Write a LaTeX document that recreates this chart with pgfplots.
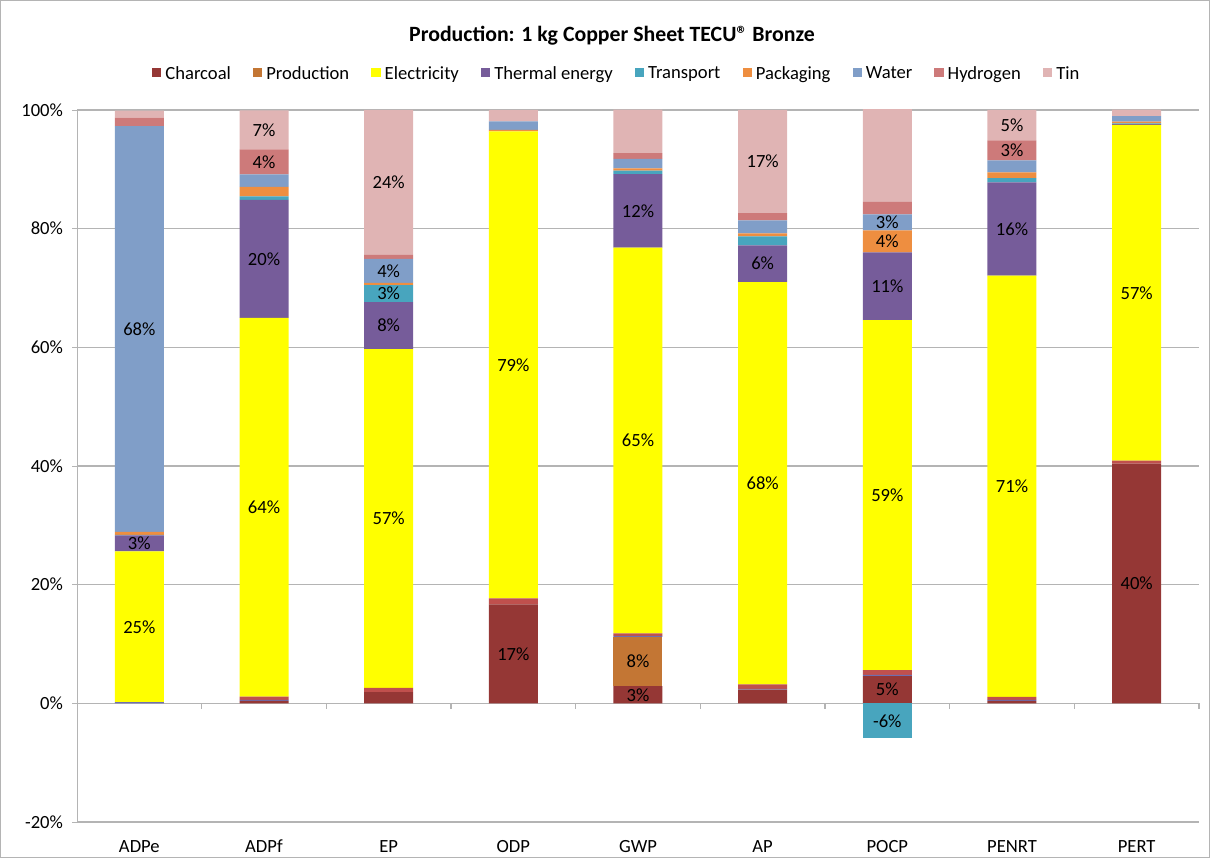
\documentclass[border=0pt]{standalone}
\usepackage{pgfplots}
\pgfplotsset{compat=1.18}
\usepackage{pgfplotstable}
\usepackage{fontspec}
\setmainfont{Carlito}

\definecolor{cChar}{RGB}{149,55,53}
\definecolor{cProd}{RGB}{195,118,52}
\definecolor{cElec}{RGB}{255,255,0}
\definecolor{cTherm}{RGB}{118,92,154}
\definecolor{cTrans}{RGB}{72,165,190}
\definecolor{cPack}{RGB}{238,142,64}
\definecolor{cWater}{RGB}{128,158,200}
\definecolor{cHyd}{RGB}{205,122,122}
\definecolor{cTin}{RGB}{224,180,180}
\definecolor{cXr}{RGB}{192,80,77}
\definecolor{cXp}{RGB}{110,110,175}
\definecolor{gridc}{RGB}{180,180,180}

% x: 0 ADPe, 1 ADPf, 2 EP, 3 ODP, 4 GWP, 5 AP, 6 POCP, 7 PENRT, 8 PERT
\pgfplotstableread{
x y l
0 0 {}
1 0 {}
2 0 {}
3 0 {}
4 0 {}
5 0 {}
6 -5.9 -6\%
7 0 {}
8 0 {}
}\tTrNeg
\pgfplotstableread{
x y l
0 0 {}
1 0.4 {}
2 1.9 {}
3 16.7 17\%
4 2.9 3\%
5 2.3 {}
6 4.6 5\%
7 0.4 {}
8 40.4 40\%
}\tChar
\pgfplotstableread{
x y l
0 0 {}
1 0 {}
2 0 {}
3 0 {}
4 8.3 8\%
5 0 {}
6 0 {}
7 0 {}
8 0 {}
}\tProd
\pgfplotstableread{
x y l
0 0.2 {}
1 0.2 {}
2 0 {}
3 0 {}
4 0.15 {}
5 0.15 {}
6 0.2 {}
7 0.2 {}
8 0 {}
}\tXp
\pgfplotstableread{
x y l
0 0 {}
1 0.55 {}
2 0.7 {}
3 1.0 {}
4 0.45 {}
5 0.75 {}
6 0.8 {}
7 0.5 {}
8 0.5 {}
}\tXr
\pgfplotstableread{
x y l
0 25.4 25\%
1 63.8 64\%
2 57.1 57\%
3 78.7 79\%
4 65.0 65\%
5 67.8 68\%
6 59.0 59\%
7 71.0 71\%
8 56.6 57\%
}\tElec
\pgfplotstableread{
x y l
0 2.7 3\%
1 19.9 20\%
2 7.9 8\%
3 0 {}
4 12.4 12\%
5 6.2 6\%
6 11.4 11\%
7 15.7 16\%
8 0.1 {}
}\tTherm
\pgfplotstableread{
x y l
0 0.1 {}
1 0.6 {}
2 2.9 3\%
3 0 {}
4 0.6 {}
5 1.5 {}
6 0 {}
7 0.7 {}
8 0.15 {}
}\tTrans
\pgfplotstableread{
x y l
0 0.5 {}
1 1.6 {}
2 0.35 {}
3 0.25 {}
4 0.35 {}
5 0.5 {}
6 3.7 4\%
7 1.0 {}
8 0.3 {}
}\tPack
\pgfplotstableread{
x y l
0 68.4 68\%
1 2.1 {}
2 4.05 4\%
3 1.45 {}
4 1.6 {}
5 2.2 {}
6 2.7 3\%
7 2.0 {}
8 0.9 {}
}\tWater
\pgfplotstableread{
x y l
0 1.4 {}
1 4.2 4\%
2 0.7 {}
3 0 {}
4 1.0 {}
5 1.2 {}
6 2.1 {}
7 3.4 3\%
8 0 {}
}\tHyd
\pgfplotstableread{
x y l
0 1.2 {}
1 6.6 7\%
2 24.4 24\%
3 1.9 {}
4 7.3 7\%
5 17.4 17\%
6 22.0 22\%
7 5.1 5\%
8 1.1 {}
}\tTin

\begin{document}
\begin{tikzpicture}[font=\fontsize{9.3}{11}\selectfont]
\useasboundingbox (0,0) rectangle (605pt,429pt);
\draw[gridc, line width=0.5pt] (0.25pt,0.25pt) rectangle (604.75pt,428.75pt);
\node[font=\bfseries\fontsize{10.9}{13}\selectfont] at (306pt,411pt) {Production: 1 kg Copper Sheet TECU® Bronze};
\begin{axis}[
  scale only axis, width=561pt, height=356pt,
  at={(38.5pt,18pt)}, anchor=south west,
  ybar stacked, bar width=24.5pt,
  xmin=-0.5, xmax=8.5, ymin=-20, ymax=100,
  clip mode=individual,
  axis lines*=left,
  axis line style={gridc, -},
  xtick={0,...,8},
  xticklabels={ADPe,ADPf,EP,ODP,GWP,AP,POCP,PENRT,PERT},
  major x tick style={draw=none},
  xticklabel style={yshift=-3pt},
  ytick={-20,0,20,40,60,80,100},
  yticklabel={\pgfmathprintnumber{\tick}\%},
  /pgf/number format/assume math mode=true,
  ytick style={gridc},
  tick align=outside,
  major tick length=2.5pt,
  yticklabel style={xshift=-1pt},
  ymajorgrids,
  grid style={gridc, line width=0.6pt},
  point meta=explicit symbolic,
  nodes near coords={\pgfplotspointmeta},
  every node near coord/.append style={anchor=center, text=black, font=\fontsize{9.3}{11}\selectfont},
  legend style={at={(0.482,1.05)}, anchor=center, draw=none, fill=none,
    legend columns=-1, font=\fontsize{9.3}{11}\selectfont,
    /tikz/every odd column/.append style={column sep=0pt},
    /tikz/every even column/.append style={column sep=9.1pt}},
  legend image code/.code={\fill[#1] (0pt,-1.3pt) rectangle (4.6pt,3.3pt);},
]
\addplot[fill=cTrans, draw=none, forget plot] table[x=x,y=y,meta=l]{\tTrNeg};
\addplot[fill=cChar, draw=none] table[x=x,y=y,meta=l]{\tChar};
\addlegendentry{Charcoal}
\addplot[fill=cProd, draw=none] table[x=x,y=y,meta=l]{\tProd};
\addlegendentry{Production}
\addplot[fill=cXp, draw=none, forget plot] table[x=x,y=y,meta=l]{\tXp};
\addplot[fill=cXr, draw=none, forget plot] table[x=x,y=y,meta=l]{\tXr};
\addplot[fill=cElec, draw=none] table[x=x,y=y,meta=l]{\tElec};
\addlegendentry{Electricity}
\addplot[fill=cTherm, draw=none] table[x=x,y=y,meta=l]{\tTherm};
\addlegendentry{Thermal energy}
\addplot[fill=cTrans, draw=none] table[x=x,y=y,meta=l]{\tTrans};
\addlegendentry{Transport}
\addplot[fill=cPack, draw=none] table[x=x,y=y,meta=l]{\tPack};
\addlegendentry{Packaging}
\addplot[fill=cWater, draw=none] table[x=x,y=y,meta=l]{\tWater};
\addlegendentry{Water}
\addplot[fill=cHyd, draw=none] table[x=x,y=y,meta=l]{\tHyd};
\addlegendentry{Hydrogen}
\addplot[fill=cTin, draw=none] table[x=x,y=y,meta=l]{\tTin};
\addlegendentry{Tin}
\pgfplotsinvokeforeach{0.5,1.5,2.5,3.5,4.5,5.5,6.5,7.5,8.5}{
  \draw[gridc, line width=0.6pt] (axis cs:#1,0) -- ([yshift=-3pt]axis cs:#1,0);
}
\end{axis}
\end{tikzpicture}
\end{document}
